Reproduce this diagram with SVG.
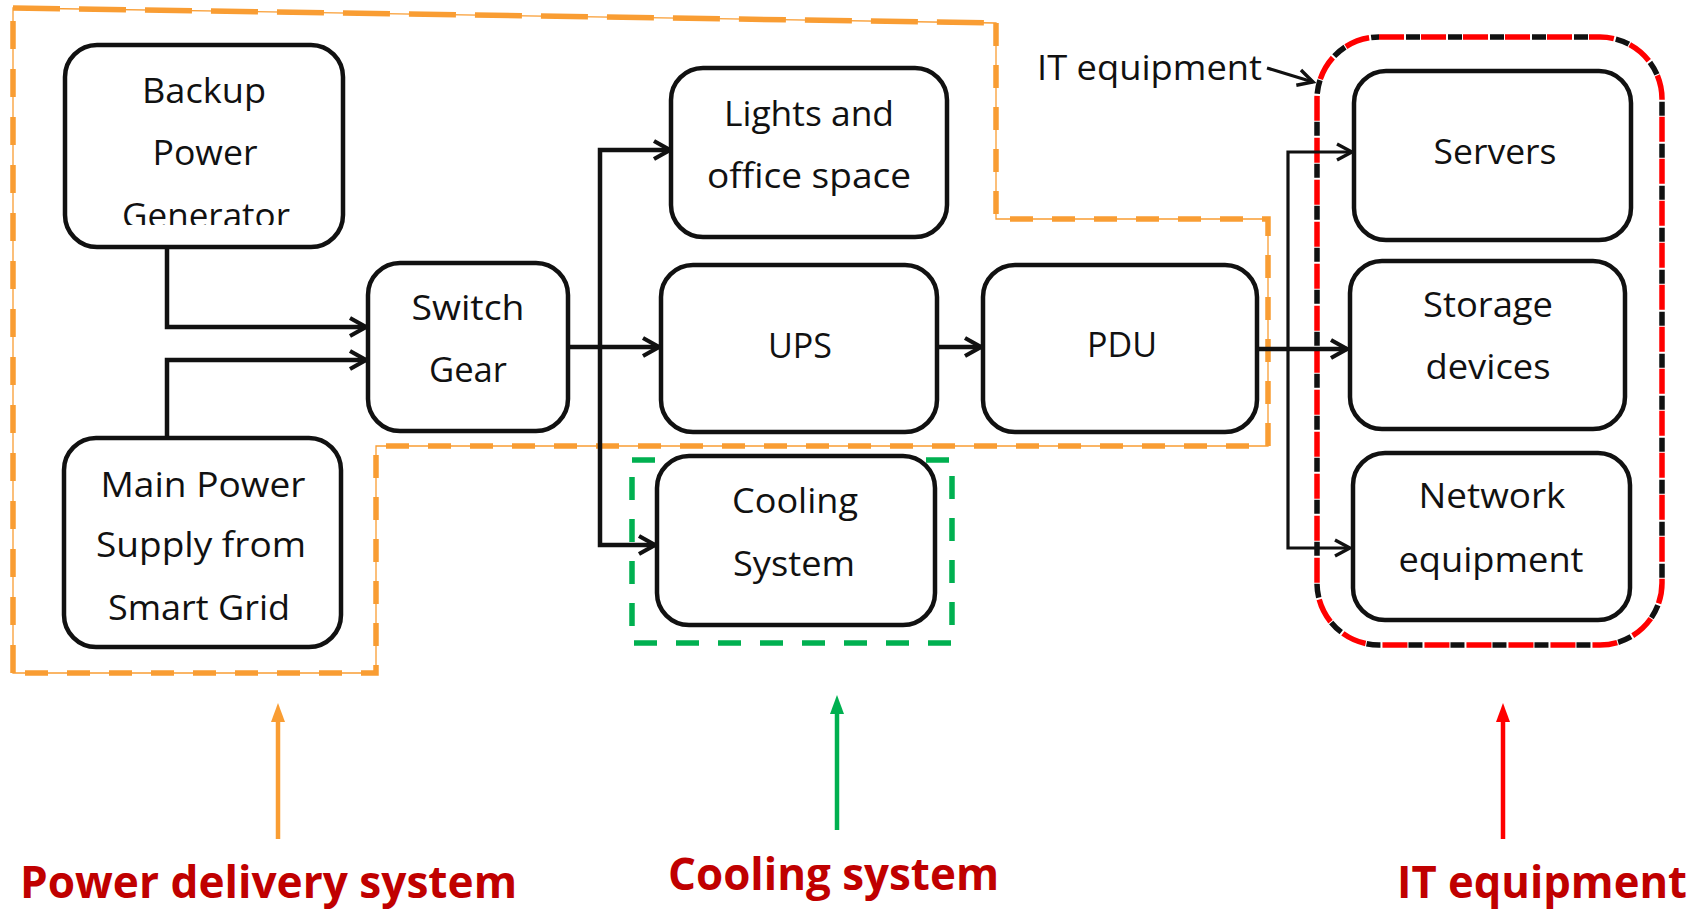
<svg xmlns="http://www.w3.org/2000/svg" width="1707" height="910" viewBox="0 0 1707 910">
<style>
.box{fill:#fff;stroke:#111;stroke-width:4.5}
.t{font-family:"Open Sans","Liberation Sans",sans-serif;font-size:34px;fill:#111;text-anchor:middle}
.lbl{font-family:"Open Sans","Liberation Sans",sans-serif;font-size:44px;font-weight:bold;fill:#C00000}
.c{fill:none;stroke:#111;stroke-width:4.5}
.cthin{fill:none;stroke:#111;stroke-width:3.2}
.orThin{fill:none;stroke:#F99D33;stroke-width:1.3}
.orDash{fill:none;stroke:#F99D33;stroke-width:5.5;stroke-dasharray:23 19}
.grDash{fill:none;stroke:#00B050;stroke-width:5.5;stroke-dasharray:23 19}
</style>
<defs>
<marker id="chev" markerUnits="userSpaceOnUse" viewBox="0 0 22 22" markerWidth="22" markerHeight="22" refX="19" refY="11" orient="auto">
<path d="M3,2 L19,11 L3,20" fill="none" stroke="#111" stroke-width="4.2" stroke-linejoin="miter"/>
</marker>
<marker id="chevThin" markerUnits="userSpaceOnUse" viewBox="0 0 22 22" markerWidth="22" markerHeight="22" refX="19" refY="11" orient="auto">
<path d="M4,3 L19,11 L4,19" fill="none" stroke="#111" stroke-width="3.4"/>
</marker>
<clipPath id="genClip"><rect x="60" y="40" width="290" height="185"/></clipPath>
</defs>

<g id="group-power-delivery">
<path class="orThin" d="M13,8 L996,23 L996,219 L1268,219 L1268,446 L376,446 L376,673 L13,673 Z"/>
<path class="orDash" style="stroke-dasharray:47 19" d="M13,8 L996,23"/>
<path class="orDash" d="M996,23 L996,219 L1268,219 L1268,446 L376,446 L376,673 L13,673"/>
<path class="orDash" style="stroke-dasharray:28 20" d="M13,673 L13,8"/>
</g>

<g id="group-cooling">
<rect x="632" y="460" width="320" height="183" class="grDash"/>
</g>

<g id="group-it">
<rect x="1317" y="37" width="345" height="608" rx="62" fill="none" stroke="#111" stroke-width="5.5" stroke-dasharray="14 28" stroke-dashoffset="-27"/>
<rect x="1317" y="37" width="345" height="608" rx="62" fill="none" stroke="#FF0000" stroke-width="5.5" stroke-dasharray="25 17"/>
</g>

<g id="connectors">
<path class="c" d="M167,248 L167,327 L366,327" marker-end="url(#chev)"/>
<path class="c" d="M167,437 L167,360 L366,360" marker-end="url(#chev)"/>
<path class="c" d="M568,347 L659,347" marker-end="url(#chev)"/>
<path class="c" d="M600,347 L600,150 L670,150" marker-end="url(#chev)"/>
<path class="c" d="M600,347 L600,545 L655,545" marker-end="url(#chev)"/>
<path class="c" d="M938,347 L981,347" marker-end="url(#chev)"/>
<path class="c" d="M1257,349 L1347,349" marker-end="url(#chev)"/>
<path class="cthin" d="M1288,349 L1288,152 L1352,152" marker-end="url(#chevThin)"/>
<path class="cthin" d="M1288,349 L1288,548 L1350,548" marker-end="url(#chevThin)"/>
<path class="cthin" d="M1267,68 L1313,82" marker-end="url(#chevThin)"/>
<path d="M278,839 L278,718" stroke="#F99D33" stroke-width="4.5" fill="none"/>
<path d="M278,703 L285,722 L271,722 Z" fill="#F99D33"/>
<path d="M837,830 L837,710" stroke="#00B050" stroke-width="4.5" fill="none"/>
<path d="M837,695 L844,714 L830,714 Z" fill="#00B050"/>
<path d="M1503,839 L1503,718" stroke="#FF0000" stroke-width="4.5" fill="none"/>
<path d="M1503,703 L1510,722 L1496,722 Z" fill="#FF0000"/>
</g>

<g id="node-backup">
<rect class="box" x="65" y="45" width="278" height="202" rx="32"/>
<g clip-path="url(#genClip)">
<text class="t" x="204" y="103" textLength="124" lengthAdjust="spacingAndGlyphs">Backup</text>
<text class="t" x="205" y="165" textLength="105" lengthAdjust="spacingAndGlyphs">Power</text>
<text class="t" x="206" y="228" textLength="168" lengthAdjust="spacingAndGlyphs">Generator</text>
</g>
</g>

<g id="node-main">
<rect class="box" x="64" y="438" width="277" height="209" rx="32"/>
<text class="t" x="203" y="497" textLength="205" lengthAdjust="spacingAndGlyphs">Main Power</text>
<text class="t" x="201" y="557" textLength="210" lengthAdjust="spacingAndGlyphs">Supply from</text>
<text class="t" x="199" y="620" textLength="182" lengthAdjust="spacingAndGlyphs">Smart Grid</text>
</g>

<g id="node-switch">
<rect class="box" x="368" y="263" width="200" height="168" rx="32"/>
<text class="t" x="468" y="320" textLength="113" lengthAdjust="spacingAndGlyphs">Switch</text>
<text class="t" x="468" y="382" textLength="78" lengthAdjust="spacingAndGlyphs">Gear</text>
</g>

<g id="node-lights">
<rect class="box" x="671" y="68" width="276" height="169" rx="32"/>
<text class="t" x="809" y="126" textLength="170" lengthAdjust="spacingAndGlyphs">Lights and</text>
<text class="t" x="809" y="188" textLength="204" lengthAdjust="spacingAndGlyphs">office space</text>
</g>

<g id="node-ups">
<rect class="box" x="661" y="265" width="276" height="167" rx="32"/>
<text class="t" x="800" y="358" textLength="64" lengthAdjust="spacingAndGlyphs">UPS</text>
</g>

<g id="node-pdu">
<rect class="box" x="983" y="265" width="274" height="167" rx="32"/>
<text class="t" x="1122" y="357" textLength="70" lengthAdjust="spacingAndGlyphs">PDU</text>
</g>

<g id="node-cooling">
<rect class="box" x="657" y="456" width="278" height="169" rx="32"/>
<text class="t" x="795" y="513" textLength="126" lengthAdjust="spacingAndGlyphs">Cooling</text>
<text class="t" x="794" y="576" textLength="122" lengthAdjust="spacingAndGlyphs">System</text>
</g>

<g id="node-servers">
<rect class="box" x="1354" y="71" width="277" height="169" rx="32"/>
<text class="t" x="1495" y="164" textLength="123" lengthAdjust="spacingAndGlyphs">Servers</text>
</g>

<g id="node-storage">
<rect class="box" x="1350" y="261" width="275" height="168" rx="32"/>
<text class="t" x="1488" y="317" textLength="130" lengthAdjust="spacingAndGlyphs">Storage</text>
<text class="t" x="1488" y="379" textLength="125" lengthAdjust="spacingAndGlyphs">devices</text>
</g>

<g id="node-network">
<rect class="box" x="1353" y="453" width="277" height="167" rx="32"/>
<text class="t" x="1492" y="508" textLength="147" lengthAdjust="spacingAndGlyphs">Network</text>
<text class="t" x="1491" y="572" textLength="185" lengthAdjust="spacingAndGlyphs">equipment</text>
</g>

<g id="label-it-callout">
<text class="t" x="1037" y="80" style="text-anchor:start" textLength="225" lengthAdjust="spacingAndGlyphs">IT equipment</text>
</g>

<g id="bottom-labels">
<text class="lbl" x="20" y="898" textLength="497" lengthAdjust="spacingAndGlyphs">Power delivery system</text>
<text class="lbl" x="668" y="890" textLength="331" lengthAdjust="spacingAndGlyphs">Cooling system</text>
<text class="lbl" x="1397" y="898" textLength="290" lengthAdjust="spacingAndGlyphs">IT equipment</text>
</g>
</svg>
